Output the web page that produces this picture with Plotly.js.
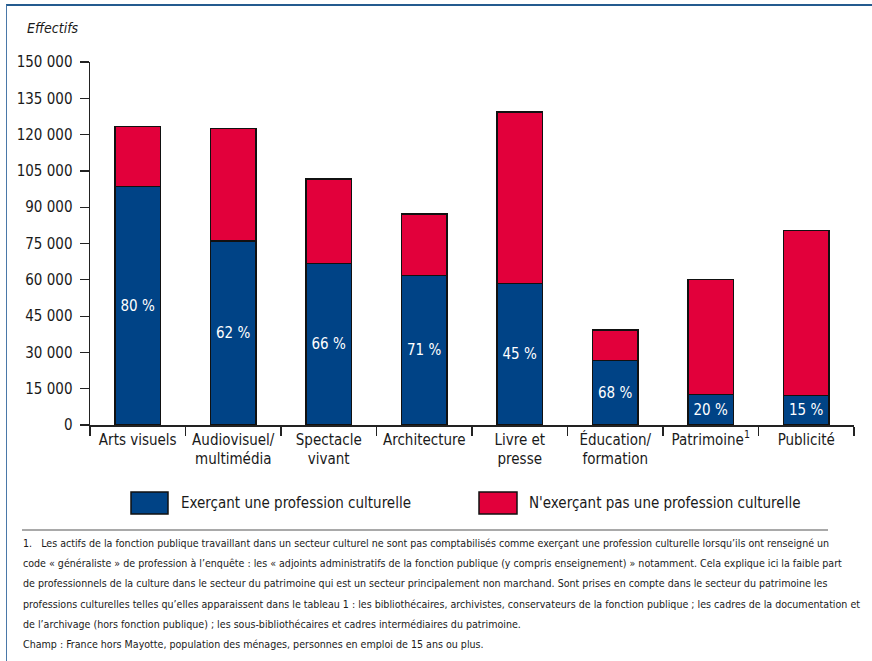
<!DOCTYPE html>
<html><head><meta charset="utf-8">
<script src="https://cdn.plot.ly/plotly-3.0.1.min.js"></script>
<style>
body{margin:0;background:#fff;}
svg text{font-stretch:condensed !important;}
#frame{position:absolute;left:6px;top:4px;width:900px;height:700px;border-top:2px solid #245b8f;border-left:1px solid #4a78a8;pointer-events:none;z-index:5}
</style>
</head><body>
<div id="chart" style="width:872px;height:661px;"></div>
<div id="frame"></div>
<script>
// ---- data ----
const categories = ['Arts visuels','Audiovisuel/<br>multimédia','Spectacle<br>vivant','Architecture','Livre et<br>presse','Éducation/<br>formation','Patrimoine<sup>1</sup>','Publicité'];
const culturel = [98500, 76000, 66700, 61700, 58400, 26700, 12600, 12200];
const nonCulturel = [24800, 46600, 35000, 25400, 70900, 12600, 47600, 68100];
const pourcentages = ['80 %','62 %','66 %','71 %','45 %','68 %','20 %','15 %'];
const yTickVals = [0,15000,30000,45000,60000,75000,90000,105000,120000,135000,150000];
const yTickText = ['0','15 000','30 000','45 000','60 000','75 000','90 000','105 000','120 000','135 000','150 000'];
const legendLabels = ['Exerçant une profession culturelle',"N'exerçant pas une profession culturelle"];
const footnoteLines = [
 '1.   Les actifs de la fonction publique travaillant dans un secteur culturel ne sont pas comptabilisés comme exerçant une profession culturelle lorsqu’ils ont renseigné un',
 'code « généraliste » de profession à l’enquête : les « adjoints administratifs de la fonction publique (y compris enseignement) » notamment. Cela explique ici la faible part',
 'de professionnels de la culture dans le secteur du patrimoine qui est un secteur principalement non marchand. Sont prises en compte dans le secteur du patrimoine les',
 'professions culturelles telles qu’elles apparaissent dans le tableau 1 : les bibliothécaires, archivistes, conservateurs de la fonction publique ; les cadres de la documentation et',
 'de l’archivage (hors fonction publique) ; les sous-bibliothécaires et cadres intermédiaires du patrimoine.',
 'Champ : France hors Mayotte, population des ménages, personnes en emploi de 15 ans ou plus.'
];

// ---- style ----
const FONT = '"DejaVu Sans", sans-serif';
const BLUE = '#004386';
const RED = '#e2003b';
const INK = '#1a1a1a';
const W = 872, H = 661, ML = 90, MR = 18, MT = 62, MB = 236;
const PW = W - ML - MR, PH = H - MT - MB;
const px2x = p => (p - ML) / PW;
const py2y = p => (H - MB - p) / PH;

const traces = [
  {type:'bar', x:categories, y:culturel, name:legendLabels[0],
   marker:{color:BLUE, line:{color:'#111', width:1.5}},
   text:pourcentages, textposition:'inside', insidetextanchor:'middle',
   textangle:0, constraintext:'none',
   textfont:{family:FONT, size:15, color:'#ffffff'}, hoverinfo:'skip'},
  {type:'bar', x:categories, y:nonCulturel, name:legendLabels[1],
   marker:{color:RED, line:{color:'#111', width:1.5}}, hoverinfo:'skip'}
];

const shapes = [
  {type:'rect', xref:'paper', yref:'paper', x0:px2x(131), x1:px2x(168), y0:py2y(514), y1:py2y(492),
   fillcolor:BLUE, line:{color:'#111', width:1.5}},
  {type:'rect', xref:'paper', yref:'paper', x0:px2x(479), x1:px2x(517), y0:py2y(514), y1:py2y(492),
   fillcolor:RED, line:{color:'#111', width:1.5}},
  {type:'line', xref:'paper', yref:'paper', x0:px2x(22), x1:px2x(828), y0:py2y(530), y1:py2y(530),
   line:{color:'#555', width:1.2}}
];

const annotations = [
  {xref:'paper', yref:'paper', x:px2x(25), y:py2y(28), xanchor:'left', yanchor:'middle', showarrow:false,
   text:'<i>Effectifs</i>', font:{family:FONT, size:14, color:INK}},
  {xref:'paper', yref:'paper', x:px2x(179), y:py2y(503), xanchor:'left', yanchor:'middle', showarrow:false,
   text:legendLabels[0], font:{family:FONT, size:15, color:INK}},
  {xref:'paper', yref:'paper', x:px2x(527), y:py2y(503), xanchor:'left', yanchor:'middle', showarrow:false,
   text:legendLabels[1], font:{family:FONT, size:15, color:INK}}
];
footnoteLines.forEach((t, i) => {
  annotations.push({xref:'paper', yref:'paper', x:px2x(21), y:py2y(543 + i*20.2), xanchor:'left', yanchor:'middle',
    showarrow:false, text:t, font:{family:FONT, size:10.6, color:INK}});
});

const layout = {
  width:W, height:H, margin:{l:ML, r:MR, t:MT, b:MB, pad:0},
  paper_bgcolor:'#fff', plot_bgcolor:'#fff',
  barmode:'stack', bargap:0.523, showlegend:false,
  font:{family:FONT, size:15, color:INK},
  xaxis:{type:'category', showline:true, linecolor:'#222', linewidth:1.5, ticks:'outside', tickson:'boundaries',
    ticklen:9, tickcolor:'#222', tickwidth:1.2, showgrid:false, zeroline:false, tickangle:0,
    tickfont:{family:FONT, size:15, color:INK}, fixedrange:true},
  yaxis:{range:[0,150000], showline:true, linecolor:'#222', linewidth:1.5, ticks:'outside', ticklen:9,
    tickcolor:'#222', tickwidth:1.2, tickvals:yTickVals, ticktext:yTickText, showgrid:false, zeroline:false,
    ticklabelstandoff:4, tickfont:{family:FONT, size:15, color:INK}, fixedrange:true},
  shapes:shapes, annotations:annotations, hovermode:false
};

Plotly.newPlot('chart', traces, layout, {displayModeBar:false, staticPlot:true});
</script>
</body></html>
